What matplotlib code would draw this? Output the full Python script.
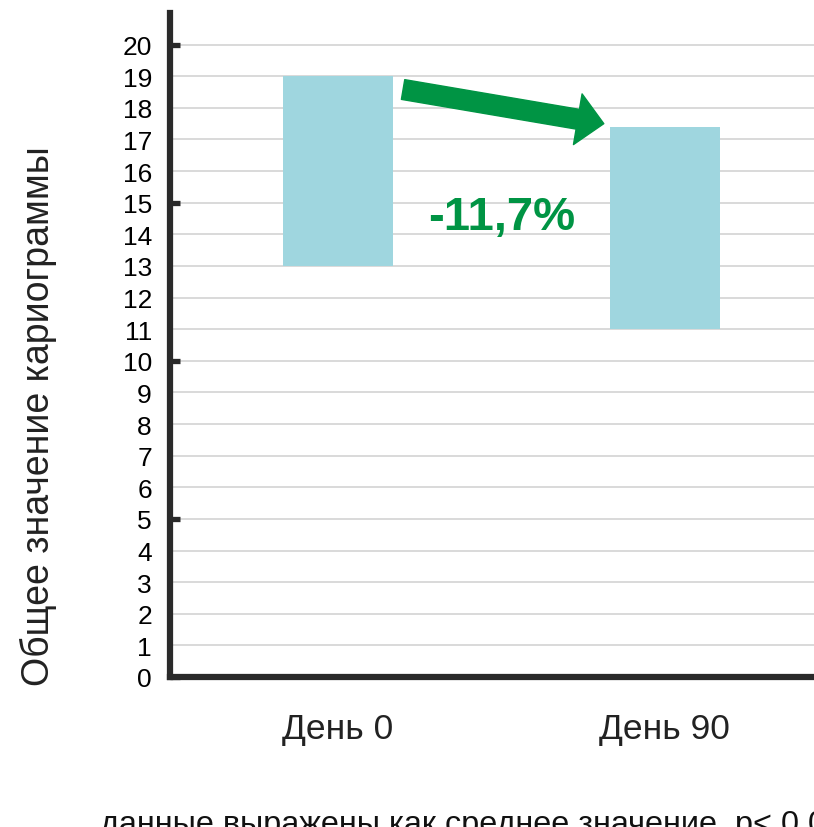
import matplotlib
matplotlib.use("Agg")
import matplotlib.pyplot as plt
from matplotlib.patches import FancyArrowPatch
from matplotlib.ticker import FixedLocator

plt.rcParams['font.family'] = ['Liberation Sans', 'DejaVu Sans']

# Data
categories = ["День 0", "День 90"]
low_values = [13, 11]
high_values = [19, 17.4]
change_label = "-11,7%"
y_ticks = list(range(0, 21))
y_major_marks = [0, 5, 10, 15, 20]
y_title = "Общее значение кариограммы"
footnote = "данные выражены как среднее значение, p< 0,05"

W, H = 814, 828
fig = plt.figure(figsize=(W / 100, H / 100), dpi=100)
ax = fig.add_axes([170 / W, (H - 678) / H, (W - 170) / W, (678 - 14) / H])

x = list(range(len(categories)))
heights = [h - l for h, l in zip(high_values, low_values)]
ax.bar(x, heights, bottom=low_values, width=0.335, color='#9fd6df', zorder=2)

ax.set_xlim(-0.514, 1.456)
ax.set_ylim(0, 21.0)

# Grid
ax.set_axisbelow(True)
ax.yaxis.grid(True, color='#d9d9d9', linewidth=1.4)
ax.xaxis.grid(False)

# Spines
for s in ['top', 'right']:
    ax.spines[s].set_visible(False)
for s in ['left', 'bottom']:
    ax.spines[s].set_color('#2a2a2a')
    ax.spines[s].set_linewidth(4.5)
    ax.spines[s].set_capstyle('projecting')

# Y ticks: labels on every integer, thick marks on multiples of 5
ax.set_yticks(y_ticks)
ax.set_yticklabels([str(v) for v in y_ticks])
ax.tick_params(axis='y', which='major', length=0, pad=13, labelsize=19, labelcolor='black')
ax.yaxis.remove_overlapping_locs = False
ax.yaxis.set_minor_locator(FixedLocator(y_major_marks))
ax.tick_params(axis='y', which='minor', direction='in', length=7, width=3.8, color='#2a2a2a')

# X ticks
ax.set_xticks(x)
ax.set_xticklabels(categories)
ax.tick_params(axis='x', length=0, pad=25, labelsize=25.5, labelcolor='#222222')

ax.set_ylabel(y_title, fontsize=27, color='#222222')
ax.yaxis.set_label_coords(-0.175, 0.395)

# Change arrow and label
arrow = FancyArrowPatch((0.199, 18.58), (0.813, 17.5),
                        arrowstyle="simple,head_length=19,head_width=37,tail_width=14.4",
                        mutation_scale=1, color='#009444', shrinkA=0, shrinkB=0, zorder=3)
ax.add_patch(arrow)
ax.text(0.50, 14.56, change_label, ha='center', va='center', fontsize=34,
        fontweight='bold', color='#009444', zorder=3)

fig.text(100 / W, (H - 833) / H, footnote, ha='left', va='baseline',
         fontsize=23.3, color='#111111')

fig.savefig("out.png", dpi=100)
